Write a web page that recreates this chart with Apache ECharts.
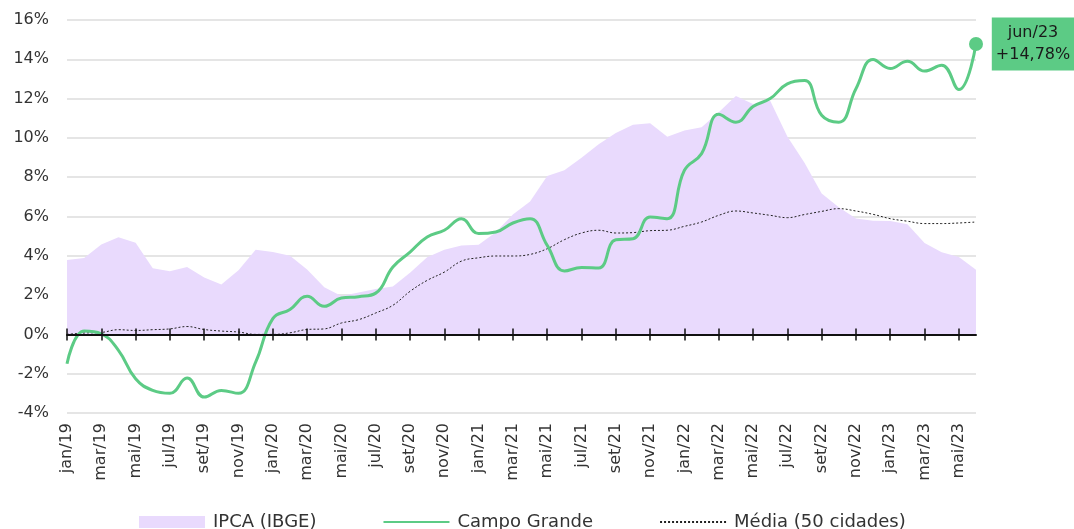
<!DOCTYPE html>
<html>
<head>
<meta charset="utf-8">
<script src="https://cdn.jsdelivr.net/npm/echarts@6/dist/echarts.min.js"></script>
<style>
  html, body { margin: 0; padding: 0; background: #fff; }
  #chart { width: 1074px; height: 529px; }
</style>
</head>
<body>
<div id="chart"></div>
<script>
// Monthly categories, jan/19 to jun/23
const categories = [
  'jan/19','fev/19','mar/19','abr/19','mai/19','jun/19','jul/19','ago/19','set/19','out/19','nov/19','dez/19',
  'jan/20','fev/20','mar/20','abr/20','mai/20','jun/20','jul/20','ago/20','set/20','out/20','nov/20','dez/20',
  'jan/21','fev/21','mar/21','abr/21','mai/21','jun/21','jul/21','ago/21','set/21','out/21','nov/21','dez/21',
  'jan/22','fev/22','mar/22','abr/22','mai/22','jun/22','jul/22','ago/22','set/22','out/22','nov/22','dez/22',
  'jan/23','fev/23','mar/23','abr/23','mai/23','jun/23'
];

// IPCA (IBGE), accumulated 12 months, %
const ipca = [
  3.78, 3.89, 4.58, 4.94, 4.66, 3.37, 3.22, 3.43, 2.89, 2.54, 3.27, 4.31,
  4.19, 4.00, 3.30, 2.40, 1.95, 2.13, 2.31, 2.44, 3.14, 3.92, 4.31, 4.52,
  4.56, 5.20, 6.10, 6.76, 8.06, 8.35, 8.99, 9.68, 10.25, 10.67, 10.74, 10.06,
  10.38, 10.54, 11.30, 12.13, 11.73, 11.89, 10.07, 8.73, 7.17, 6.47, 5.90, 5.79,
  5.77, 5.60, 4.65, 4.18, 3.94, 3.29
];

// Campo Grande, %
const campoGrande = [
  -1.49, 0.17, 0.03, -0.81, -2.26, -2.85, -3.00, -2.22, -3.19, -2.85, -3.00, -1.41,
  0.80, 1.27, 1.94, 1.43, 1.85, 1.92, 2.10, 3.43, 4.19, 4.96, 5.30, 5.89,
  5.13, 5.21, 5.67, 5.89, 4.53, 3.23, 3.40, 3.38, 4.82, 4.87, 5.98, 5.89,
  8.35, 9.20, 11.20, 10.80, 11.60, 12.00, 12.75, 12.92, 11.15, 10.80, 12.50, 13.99,
  13.53, 13.90, 13.40, 13.70, 12.46, 14.78
];

// Média (50 cidades), %
const media = [
  0.00, 0.07, 0.10, 0.24, 0.20, 0.24, 0.28, 0.40, 0.25, 0.17, 0.12, 0.00,
  0.00, 0.08, 0.25, 0.28, 0.58, 0.75, 1.09, 1.48, 2.19, 2.75, 3.17, 3.73,
  3.90, 3.99, 3.99, 4.07, 4.36, 4.82, 5.16, 5.30, 5.16, 5.18, 5.28, 5.30,
  5.50, 5.72, 6.06, 6.28, 6.18, 6.06, 5.94, 6.10, 6.26, 6.40, 6.28, 6.11,
  5.89, 5.76, 5.64, 5.64, 5.67, 5.72
];

const yTicks = { min: -4, max: 16, interval: 2 };

const GREEN = '#5ccb85';
const PURPLE = '#e9dafd';
const FONT = '"DejaVu Sans", "Noto Sans", sans-serif';

const lastIdx = campoGrande.length - 1;
const campoData = campoGrande.map((v, i) => i === lastIdx
  ? {
      value: v,
      symbol: 'circle',
      symbolSize: 14,
      label: {
        show: true,
        position: 'right',
        distance: 8,
        offset: [42, 0],
        formatter: () => categories[i] + '\n+' + v.toFixed(2).replace('.', ',') + '%',
        backgroundColor: GREEN,
        color: '#1a1a1a',
        fontFamily: FONT,
        fontSize: 16,
        lineHeight: 22,
        align: 'center',
        padding: [5, 4, 4, 4]
      }
    }
  : v);

const chart = echarts.init(document.getElementById('chart'), null, { renderer: 'canvas' });

const zeroAxisBase = {
  type: 'category',
  data: categories,
  boundaryGap: false,
  axisLabel: { show: false },
  splitLine: { show: false },
  z: 10
};

chart.setOption({
  animation: false,
  backgroundColor: '#fff',
  textStyle: { fontFamily: FONT },
  grid: { left: 67, right: 98, top: 20, bottom: 116, containLabel: false },
  legend: {
    top: 508,
    left: 134,
    itemWidth: 66,
    itemHeight: 12,
    itemGap: 66,
    textStyle: { fontSize: 18, color: '#333', fontFamily: FONT, padding: [0, 0, 0, 3] },
    data: [
      { name: 'IPCA (IBGE)', icon: 'rect' },
      { name: 'Campo Grande', itemStyle: { opacity: 0 } },
      { name: 'Média (50 cidades)', itemStyle: { opacity: 0 } }
    ]
  },
  xAxis: [
    {
      // month labels along the bottom
      type: 'category',
      data: categories,
      boundaryGap: false,
      position: 'bottom',
      axisLine: { show: false, onZero: false },
      axisTick: { show: false },
      axisLabel: {
        interval: 1,
        rotate: 90,
        margin: 10,
        fontSize: 16,
        color: '#333',
        fontFamily: FONT
      },
      splitLine: { show: false }
    },
    Object.assign({}, zeroAxisBase, {
      // zero line with ticks pointing down
      position: 'bottom',
      axisLine: { show: true, onZero: true, onZeroAxisIndex: 0, lineStyle: { color: '#111', width: 2 } },
      axisTick: { show: true, interval: 1, length: 6, inside: false, lineStyle: { color: '#111', width: 1.5 } }
    }),
    Object.assign({}, zeroAxisBase, {
      // ticks pointing up from the zero line
      position: 'top',
      axisLine: { show: false, onZero: true, onZeroAxisIndex: 0 },
      axisTick: { show: true, interval: 1, length: 6, inside: false, lineStyle: { color: '#111', width: 1.5 } }
    })
  ],
  yAxis: {
    type: 'value',
    min: yTicks.min,
    max: yTicks.max,
    interval: yTicks.interval,
    axisLine: { show: false },
    axisTick: { show: false },
    axisLabel: {
      formatter: '{value}%',
      fontSize: 16,
      color: '#333',
      margin: 18,
      fontFamily: FONT
    },
    splitLine: { lineStyle: { color: '#dcdcdc', width: 1.5 } }
  },
  series: [
    {
      name: 'IPCA (IBGE)',
      type: 'line',
      xAxisIndex: 0,
      data: ipca,
      symbol: 'none',
      lineStyle: { width: 0, color: PURPLE },
      itemStyle: { color: PURPLE },
      areaStyle: { color: PURPLE, opacity: 1 },
      z: 1
    },
    {
      name: 'Campo Grande',
      type: 'line',
      xAxisIndex: 0,
      data: campoData,
      smooth: 0.45,
      symbol: 'none',
      showSymbol: true,
      lineStyle: { width: 3, color: GREEN },
      itemStyle: { color: GREEN },
      z: 4
    },
    {
      name: 'Média (50 cidades)',
      type: 'line',
      xAxisIndex: 0,
      data: media,
      smooth: 0.4,
      symbol: 'none',
      lineStyle: { width: 1, color: '#222', type: [2, 2] },
      itemStyle: { color: '#222' },
      z: 3
    }
  ]
});
</script>
</body>
</html>
